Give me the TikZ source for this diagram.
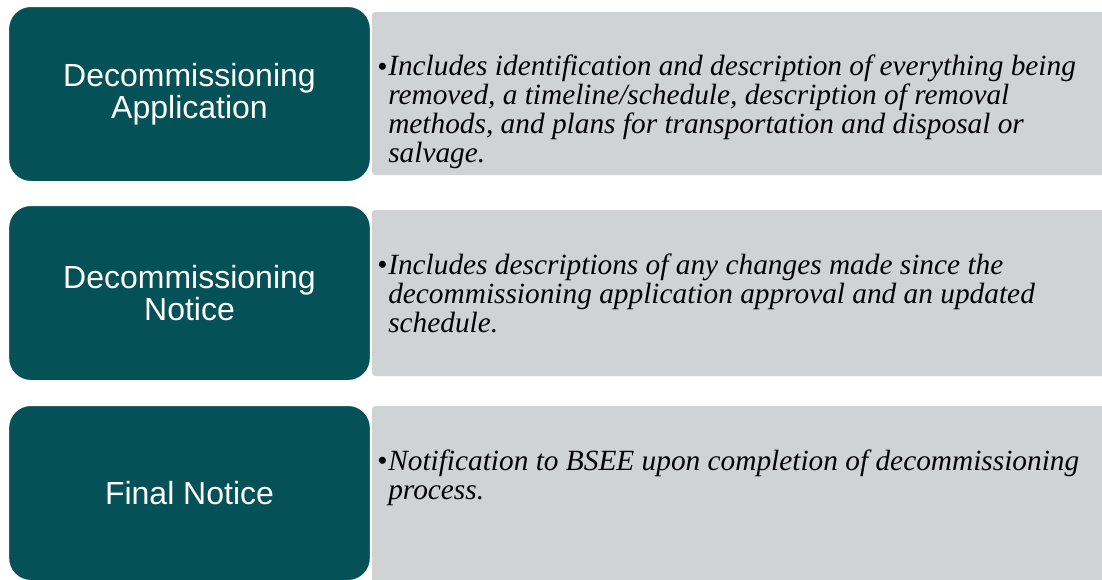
\documentclass[tikz,border=0pt]{standalone}
\usepackage{fontspec}
\setmainfont{Liberation Serif}
\newfontfamily\arialfont{Liberation Sans}
\usepackage{xcolor}
\usepackage{tikz}
\usetikzlibrary{calc}
\definecolor{tealbox}{HTML}{045157}
\definecolor{greybox}{HTML}{D0D3D4}
\tikzset{
  stepbox/.style={fill=tealbox, draw=white, line width=1.5pt, rounded corners=17pt,
    minimum width=272pt, minimum height=132pt, inner sep=0pt,
    align=center, text=white, font=\arialfont\fontsize{24}{24}\selectfont},
  greyfill/.style={fill=greybox, rounded corners=2.5pt},
  dotmark/.style={anchor=base west, inner sep=0pt, font=\fontsize{22}{21.6}\selectfont},
  % base = baseline of the last line
  infotext/.style={anchor=base west, inner sep=0pt, align=left,
    font=\itshape\fontsize{22}{21.6}\selectfont},
}

\begin{document}
\begin{tikzpicture}[x=0.75pt, y=-0.75pt]
        %BATAS
        \clip (0,0) rectangle (1102,579);
        %KOORDINAT
        \coordinate (G1) at (372,12);
        \coordinate (G2) at (372,210);
        \coordinate (G3) at (372,406);
        %LATAR ABU
        \fill[greyfill] (G1) rectangle (1110,175);
        \fill[greyfill] (G2) rectangle (1110,376);
        \fill[greyfill] (G3) rectangle (1110,600);
        %KOTAK
        \node[stepbox] (app) at (189.5,94) {Decommissioning\\Application};
        \node[stepbox] (notice) at (189.5,293) {Decommissioning\\Notice};
        \node[stepbox] (final) at (189.5,493) {Final Notice};
        %TEKS
        \node[dotmark] (d1) at (377,76) {•};
        \node[infotext] (t1) at (388,162) {Includes identification and description of everything being\\removed, a timeline/schedule, description of removal\\methods, and plans for transportation and disposal or\\salvage.};
        \node[dotmark] (d2) at (377,274) {•};
        \node[infotext] (t2) at (388,332) {Includes descriptions of any changes made since the\\decommissioning application approval and an updated\\schedule.};
        \node[dotmark] (d3) at (377,470) {•};
        \node[infotext] (t3) at (388,499) {Notification to BSEE upon completion of decommissioning\\process.};
    \end{tikzpicture}
\end{document}
